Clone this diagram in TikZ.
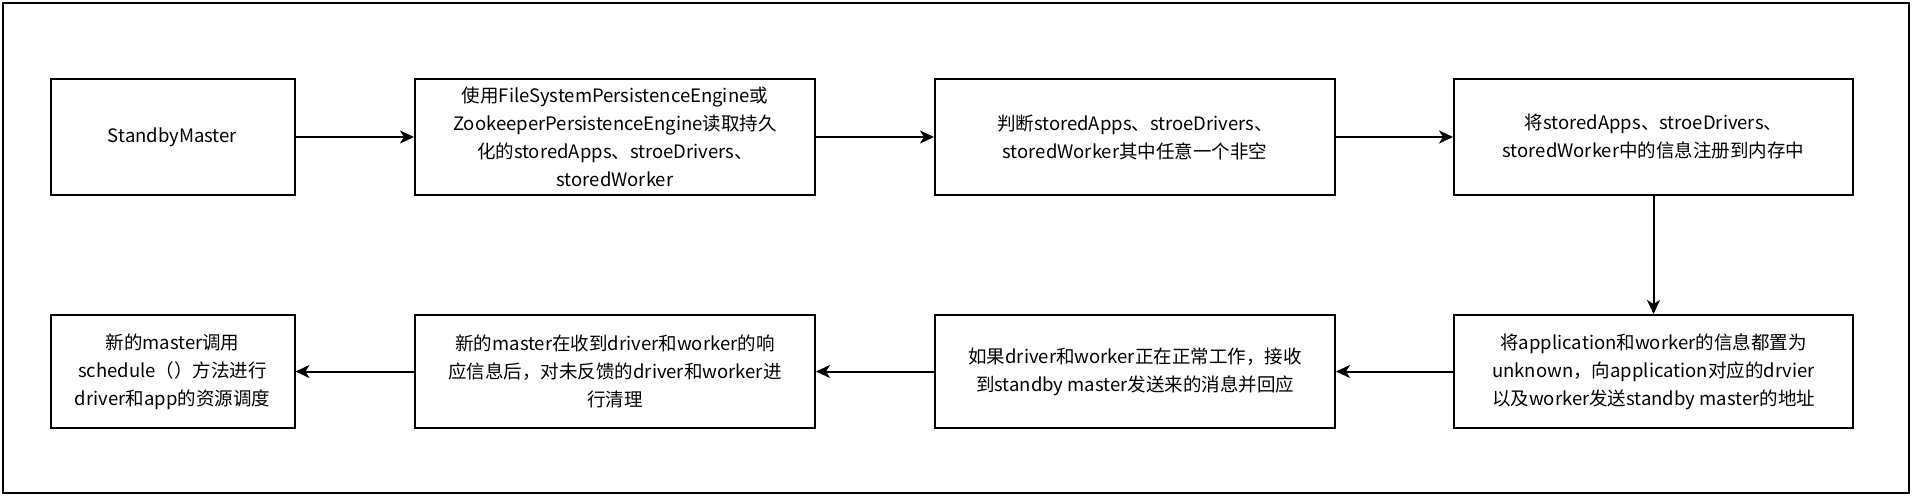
\documentclass[tikz,border=0pt]{standalone}
\usepackage{fontspec}
\setmainfont{Noto Sans CJK SC}
\usetikzlibrary{arrows.meta}
\tikzset{
  box/.style={draw=black, line width=2pt, rectangle, inner sep=0pt, align=center,
     font=\fontsize{18.5}{28}\selectfont},
  arr/.style={draw=black, line width=2pt, -{Stealth[length=14pt,width=13pt,inset=4pt]}},
}
\begin{document}
\begin{tikzpicture}[x=1pt,y=-1pt]
\useasboundingbox (0,0) rectangle (1912,496);
\draw[line width=2pt] (3,3) rectangle (1909,493);
\node[box, minimum width=244pt, minimum height=116pt] (b1) at (172.5,137) {StandbyMaster};
\node[box, minimum width=400pt, minimum height=116pt] (b2) at (615,137) {使用FileSystemPersistenceEngine或\\ZookeeperPersistenceEngine读取持久\\化的storedApps、stroeDrivers、\\storedWorker};
\node[box, minimum width=400pt, minimum height=116pt] (b3) at (1135,137) {判断storedApps、stroeDrivers、\\storedWorker其中任意一个非空};
\node[box, minimum width=399pt, minimum height=116pt] (b4) at (1653.5,137) {将storedApps、stroeDrivers、\\storedWorker中的信息注册到内存中};
\node[box, minimum width=399pt, minimum height=113pt] (b5) at (1653.5,371.5) {将application和worker的信息都置为\\unknown，向application对应的drvier\\以及worker发送standby master的地址};
\node[box, minimum width=400pt, minimum height=113pt] (b6) at (1135,371.5) {如果driver和worker正在正常工作，接收\\到standby master发送来的消息并回应};
\node[box, minimum width=400pt, minimum height=113pt] (b7) at (615,371.5) {新的master在收到driver和worker的响\\应信息后，对未反馈的driver和worker进\\行清理};
\node[box, minimum width=244pt, minimum height=113pt] (b8) at (172.5,371.5) {新的master调用\\schedule（）方法进行\\driver和app的资源调度};
\draw[arr] (b1) -- (b2);
\draw[arr] (b2) -- (b3);
\draw[arr] (b3) -- (b4);
\draw[arr] (b4) -- (b5);
\draw[arr] (b5) -- (b6);
\draw[arr] (b6) -- (b7);
\draw[arr] (b7) -- (b8);
\end{tikzpicture}
\end{document}
